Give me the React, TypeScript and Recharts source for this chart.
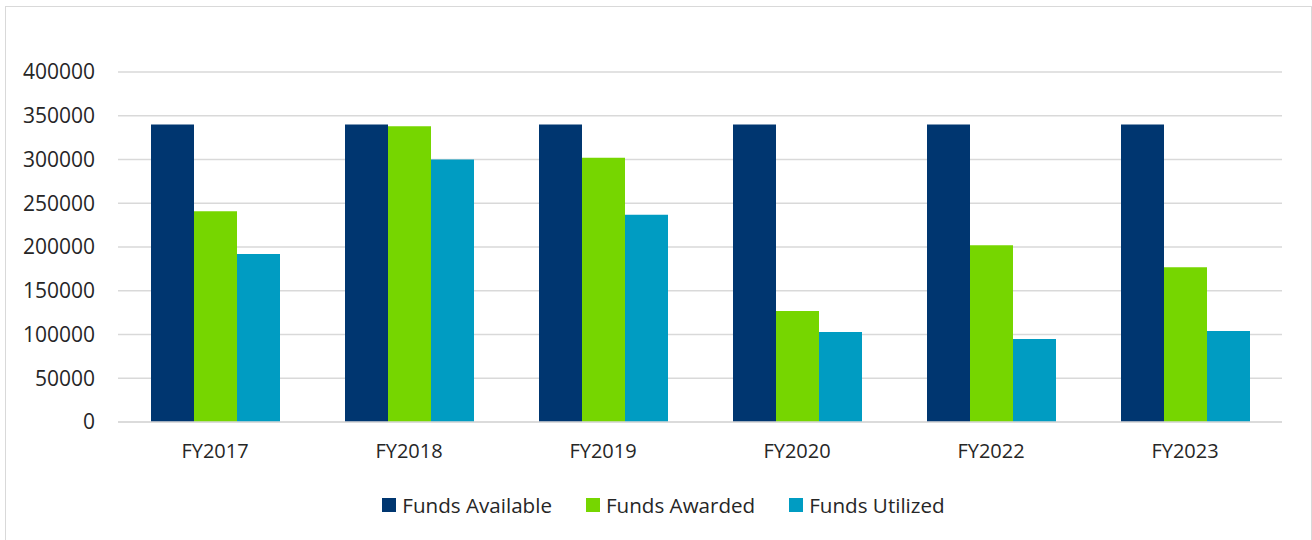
import { BarChart, Bar, XAxis, YAxis, CartesianGrid, Legend } from "recharts";

const years = ["FY2017", "FY2018", "FY2019", "FY2020", "FY2022", "FY2023"];
const fundsAvailable = [340000, 340000, 340000, 340000, 340000, 340000];
const fundsAwarded = [241000, 338000, 302000, 127000, 202000, 177000];
const fundsUtilized = [192000, 300000, 237000, 103000, 95000, 104000];
const yTicks = [0, 50000, 100000, 150000, 200000, 250000, 300000, 350000, 400000];

const series = [
  { key: "available", name: "Funds Available", color: "#003670" },
  { key: "awarded", name: "Funds Awarded", color: "#76D600" },
  { key: "utilized", name: "Funds Utilized", color: "#009CC2" },
];

const data = years.map((year, i) => ({
  year,
  available: fundsAvailable[i],
  awarded: fundsAwarded[i],
  utilized: fundsUtilized[i],
}));

const font = "'Open Sans', sans-serif";

function LegendRow() {
  return (
    <div
      style={{
        display: "flex",
        justifyContent: "center",
        alignItems: "center",
        height: 40,
        paddingLeft: 39,
        fontFamily: font,
        fontSize: 20.6,
        color: "#262626",
      }}
    >
      {series.map((s, i) => (
        <div
          key={s.key}
          style={{
            display: "flex",
            alignItems: "center",
            marginLeft: i === 0 ? 0 : 34,
          }}
        >
          <span
            style={{
              display: "inline-block",
              width: 14,
              height: 14,
              background: s.color,
              marginRight: 6,
            }}
          />
          <span>{s.name}</span>
        </div>
      ))}
    </div>
  );
}

export default function App() {
  return (
    <div
      style={{
        position: "absolute",
        left: 5,
        top: 6,
        width: 1305,
        height: 540,
        border: "1px solid #d9d9d9",
        background: "#fff",
      }}
    >
      <BarChart
        width={1305}
        height={533}
        data={data}
        margin={{ top: 65, right: 29, left: 0, bottom: 15 }}
        barGap={0}
      >
        <CartesianGrid vertical={false} stroke="#d9d9d9" strokeWidth={1.5} />
        <XAxis
          dataKey="year"
          height={63}
          axisLine={{ stroke: "#d9d9d9", strokeWidth: 1.5 }}
          tickLine={false}
          tickMargin={16}
          tick={{ fontSize: 20, fill: "#262626", fontFamily: font }}
        />
        <YAxis
          width={112}
          domain={[0, 400000]}
          ticks={yTicks}
          axisLine={false}
          tickLine={false}
          tickMargin={17}
          tick={{ fontSize: 21, fill: "#262626", fontFamily: font }}
        />
        <Legend verticalAlign="bottom" content={() => <LegendRow />} />
        {series.map((s) => (
          <Bar
            key={s.key}
            dataKey={s.key}
            name={s.name}
            fill={s.color}
            barSize={43}
            isAnimationActive={false}
          />
        ))}
      </BarChart>
    </div>
  );
}
